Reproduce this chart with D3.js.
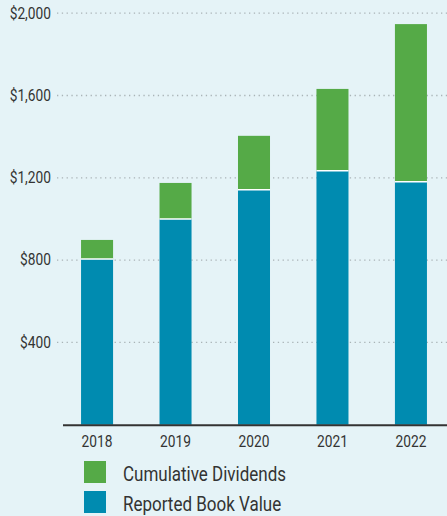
<!DOCTYPE html>
<html>
<head>
<meta charset="utf-8">
<script src="https://cdn.jsdelivr.net/npm/d3@7"></script>
<style>
html,body{margin:0;padding:0;background:#e5f3f7;}
svg{display:block;}
text{font-family:Roboto,"DejaVu Sans Condensed",sans-serif;fill:#333;}
</style>
</head>
<body>
<svg id="chart" width="447" height="516"></svg>
<script>
const categories = ["2018", "2019", "2020", "2021", "2022"];
const bookValue = [805, 1000, 1142, 1234, 1181];
const cumulativeDividends = [93, 175, 262, 398, 766];
const yTicks = [400, 800, 1200, 1600, 2000];
const yTickLabels = ["$400", "$800", "$1,200", "$1,600", "$2,000"];
const seriesNames = ["Reported Book Value", "Cumulative Dividends"];
const colors = {"Reported Book Value": "#008bb0", "Cumulative Dividends": "#55aa47"};

const svg = d3.select("#chart");
const W = 447;
const SX = 0.86;   // horizontal condensing of text
const SXL = 0.85;

const x = d3.scaleBand().domain(categories).range([63, 445]).paddingInner(0.592).paddingOuter(0.23);
const y = d3.scaleLinear().domain([0, 2000]).range([424.7, 13.2]);

const rows = categories.map((c, i) => ({cat: c, "Reported Book Value": bookValue[i], "Cumulative Dividends": cumulativeDividends[i]}));
const stacked = d3.stack().keys(seriesNames)(rows);

// gridlines
svg.append("g").selectAll("line").data(yTicks).join("line")
  .attr("x1", 57).attr("x2", W)
  .attr("y1", d => y(d)).attr("y2", d => y(d))
  .attr("stroke", "#a9b3b6").attr("stroke-width", 1.3)
  .attr("stroke-dasharray", "1.3,3.5");

// y labels
svg.append("g").selectAll("text").data(yTicks).join("text")
  .attr("transform", d => `translate(51,${y(d)}) scale(${SX},1)`)
  .attr("text-anchor", "end").attr("dominant-baseline", "central")
  .attr("font-size", 16)
  .text((d, i) => yTickLabels[i]);

// bars
svg.append("g").selectAll("g").data(stacked).join("g")
  .attr("fill", s => colors[s.key])
  .selectAll("rect").data(s => s).join("rect")
  .attr("x", d => x(d.data.cat))
  .attr("width", x.bandwidth())
  .attr("y", d => y(d[1]))
  .attr("height", d => y(d[0]) - y(d[1]));

// white separators between segments
svg.append("g").selectAll("line").data(rows).join("line")
  .attr("x1", d => x(d.cat)).attr("x2", d => x(d.cat) + x.bandwidth())
  .attr("y1", d => y(d["Reported Book Value"])).attr("y2", d => y(d["Reported Book Value"]))
  .attr("stroke", "#ffffff").attr("stroke-width", 1.6);

// x axis baseline
svg.append("line").attr("x1", 63).attr("x2", W)
  .attr("y1", y(0) + 0.5).attr("y2", y(0) + 0.5)
  .attr("stroke", "#333").attr("stroke-width", 2);

// x labels
svg.append("g").selectAll("text").data(categories).join("text")
  .attr("transform", d => `translate(${x(d) + x.bandwidth() / 2},446.5) scale(${SX},1)`)
  .attr("text-anchor", "middle").attr("font-size", 16)
  .text(d => d);

// legend
const legendItems = ["Cumulative Dividends", "Reported Book Value"];
const lg = svg.append("g").selectAll("g").data(legendItems).join("g")
  .attr("transform", (d, i) => `translate(84,${461 + i * 30})`);
lg.append("rect").attr("width", 22).attr("height", 22).attr("fill", d => colors[d]);
lg.append("text").attr("transform", `translate(39,19.5) scale(${SXL},1)`).attr("font-size", 20).text(d => d);
</script>
</body>
</html>
